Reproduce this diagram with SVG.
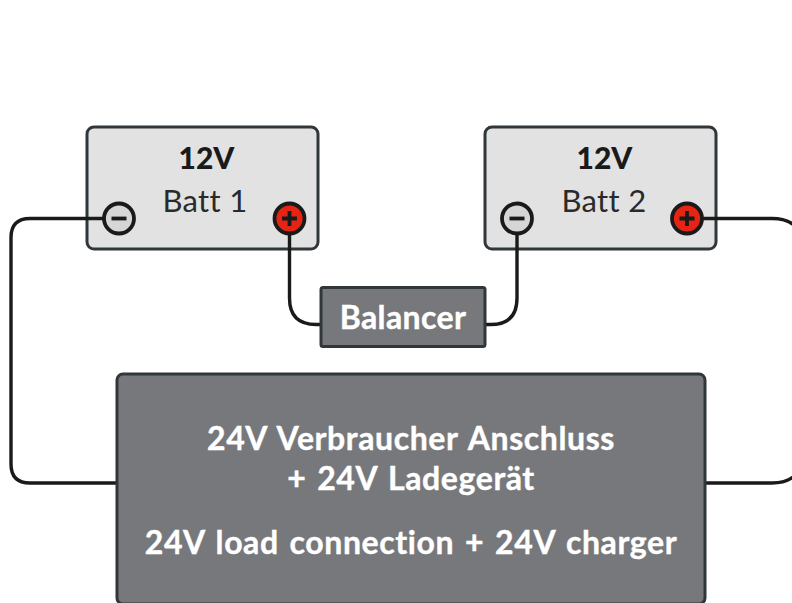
<svg xmlns="http://www.w3.org/2000/svg" width="792" height="603" viewBox="0 0 792 603">
<style>
.batt{fill:#e2e2e2;stroke:#30373a;stroke-width:3}
.dark{fill:#77787b;stroke:#30373a;stroke-width:3}
.wire{fill:none;stroke:#1a1a1a;stroke-width:3.4}
.term{stroke:#1a1a1a;stroke-width:3.8}
.neg{fill:#d6d6d6}
.pos{fill:#e62413}
.sign{stroke:#1a1a1a;stroke-width:3.8;fill:none}
text{font-family:Lato,"Noto Sans",sans-serif;text-anchor:middle;font-variant-ligatures:none}
.v{font-size:30px;font-weight:900;fill:#1a1a1a}
.n{font-size:31px;fill:#2a2a2a;letter-spacing:.3px}
.w{font-weight:700;fill:#fff;font-size:32px;letter-spacing:.6px;word-spacing:2.5px;stroke:#fff;stroke-width:.4}
</style>
<rect width="792" height="603" fill="#fff"/>
<g id="batt1"><rect class="batt" x="87" y="127" width="231" height="122" rx="7"/>
<text class="v" x="206.500" y="169">12V</text><text class="n" x="205" y="211.500">Batt 1</text></g>
<g id="batt2"><rect class="batt" x="485" y="127" width="231" height="122" rx="7"/>
<text class="v" x="604.500" y="169">12V</text><text class="n" x="604" y="211.500">Batt 2</text></g>
<g id="connectors">
<path class="wire" d="M104 218.500H30Q11 218.500 11 237.500V464Q11 483 30 483H117"/>
<path class="wire" d="M289.500 233V298Q289.500 324.500 316 324.500H321"/>
<path class="wire" d="M517 233V298Q517 324.500 490.500 324.500H485"/>
<path class="wire" d="M702 218.500H772Q792 218.500 800 232M705 483H772Q792 483 800 469"/>
</g>
<g id="batt1-neg"><circle class="term neg" cx="119" cy="218.500" r="15"/><path class="sign" d="M111.500 218.500h15"/></g>
<g id="batt1-pos"><circle class="term pos" cx="289.500" cy="218.500" r="15"/><path class="sign" d="M282 218.500h15M289.500 211v15"/></g>
<g id="batt2-neg"><circle class="term neg" cx="517" cy="218.500" r="15"/><path class="sign" d="M509.500 218.500h15"/></g>
<g id="batt2-pos"><circle class="term pos" cx="687" cy="218.500" r="15"/><path class="sign" d="M679.500 218.500h15M687 211v15"/></g>
<g id="balancer"><rect class="dark" x="321" y="287.500" width="164" height="59" rx="2"/>
<text class="w" x="403" y="328.500" style="letter-spacing:.4px">Balancer</text></g>
<g id="load"><rect class="dark" x="117" y="374" width="588" height="230" rx="6"/>
<text class="w" x="411" y="449.500">24V Verbraucher Anschluss</text>
<text class="w" x="411" y="489.500">+ 24V Ladegerät</text>
<text class="w" x="411" y="553.500">24V load connection + 24V charger</text></g>
</svg>
